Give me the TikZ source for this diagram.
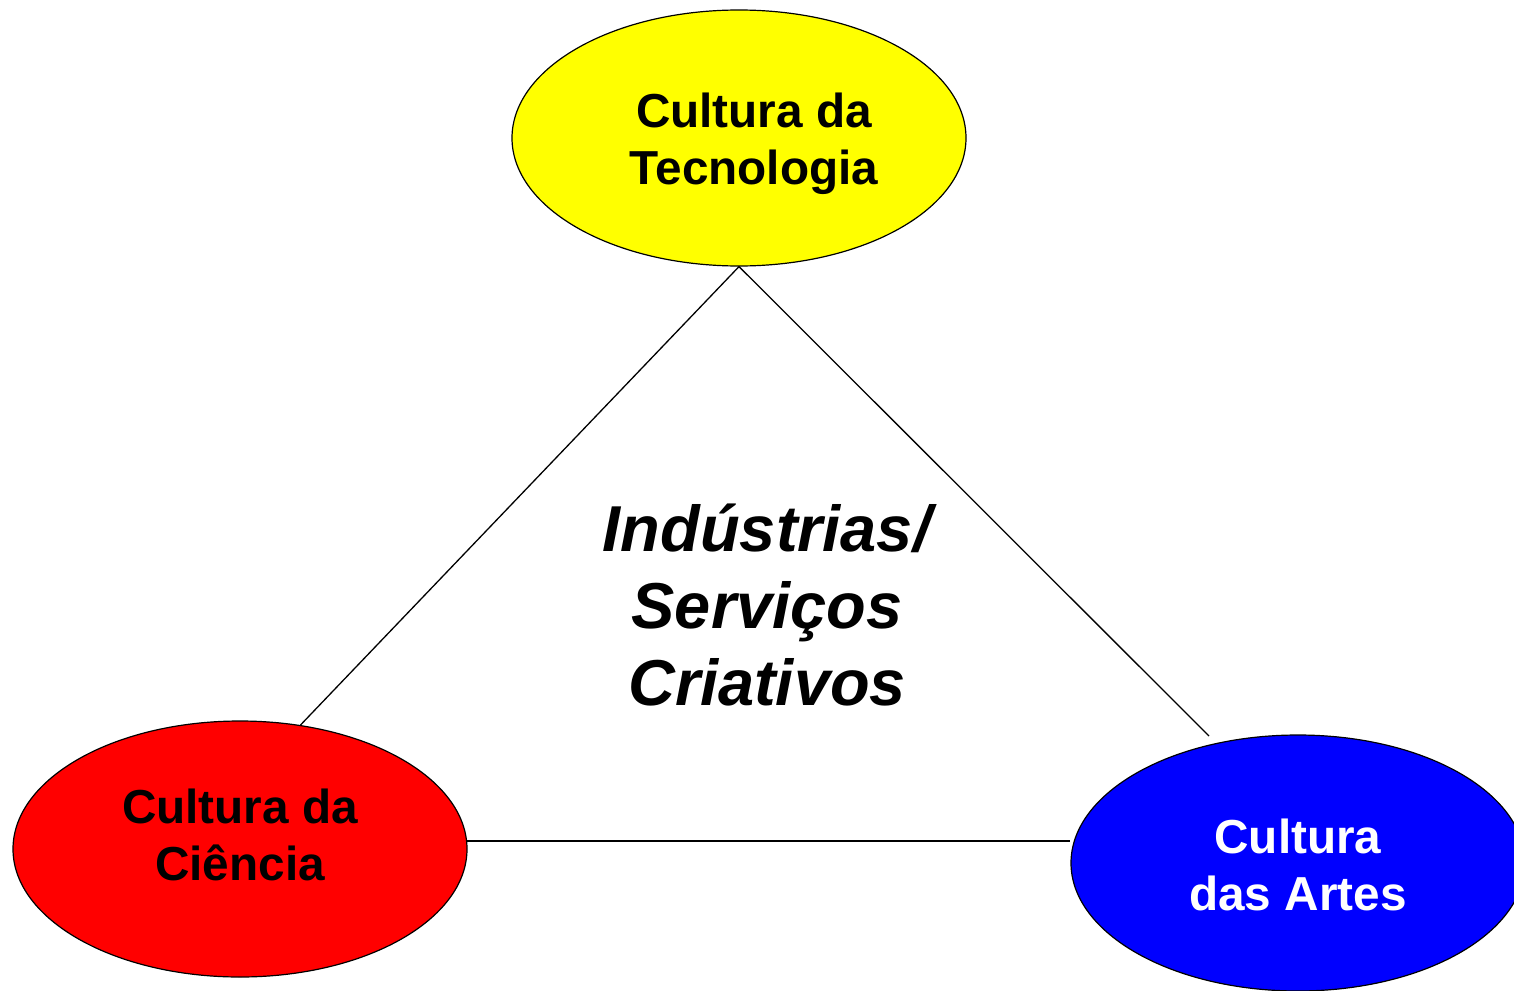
\documentclass[tikz,border=0pt]{standalone}
\usepackage{fontspec}
\setmainfont{Liberation Sans}
\usetikzlibrary{shapes.geometric}
\begin{document}
\begin{tikzpicture}[x=1pt,y=-1pt,
  blob/.style={draw=black,line width=1.2pt,ellipse,minimum width=454pt,minimum height=256pt,inner sep=0pt},
  lab/.style={align=center,font=\fontsize{47.7}{57.5}\selectfont\bfseries,inner sep=0pt},
  conn/.style={line width=1.3pt}]
\useasboundingbox (0,0) rectangle (1514,990);
\fill[white] (0,0) rectangle (1514,990);
\node[blob,fill={rgb,255:red,255;green,255;blue,0}] (tec) at (739,138) {};
\node[blob,fill={rgb,255:red,255;green,0;blue,0}] (cie) at (240,849) {};
\node[blob,fill={rgb,255:red,0;green,0;blue,255}] (art) at (1298,863) {};
\node[lab] (ttec) at (754,144) {Cultura da\\Tecnologia};
\node[lab] (tcie) at (240,835) {Cultura da\\Ciência};
\node[lab,text=white] (tart) at (1298,865) {Cultura\\das Artes};
\node[align=center,inner sep=0pt,font=\fontsize{64.9}{77}\selectfont\bfseries\itshape] (mid) at (767,605) {Indústrias/\\Serviços\\Criativos};
\coordinate (artend) at (1209,736);
\draw[conn] (tec.south) -- (cie.64);
\draw[conn] (tec.south) -- (artend);
\draw[conn] (cie.2) -- (cie.2 -| art.west);
\end{tikzpicture}
\end{document}
